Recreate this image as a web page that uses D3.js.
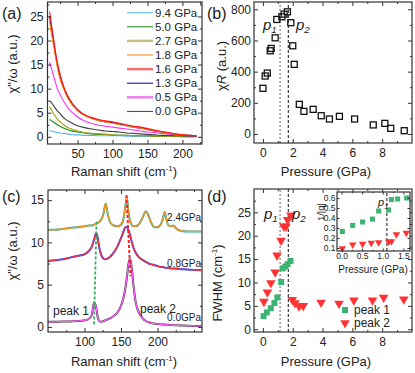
<!DOCTYPE html>
<html>
<head>
<meta charset="utf-8">
<script src="https://cdn.jsdelivr.net/npm/d3@7"></script>
<style>
body { margin: 0; background: #fff; }
text { font-family: "Liberation Sans", Arial, sans-serif; fill: #222; }
</style>
</head>
<body>
<script>
// ---- (a) chi''/omega vs Raman shift, one array per pressure
var shiftA = [10,12,15,18,21,25,30,35,40,45,50,60,70,80,90,100,110,120,130,140,150,160,170,180,190,200,210,220];
var a94 = [1.3,1.2,1.1,1.0,0.9,0.8,0.7,0.6,0.5,0.4,0.4,0.3,0.3,0.2,0.2,0.2,0.2,0.1,0.1,0.1,0.1,0.1,0.1,0.1,0.1,0.1,0.1,0.1];
var a50 = [3.6,3.4,3.1,2.8,2.5,2.2,1.8,1.5,1.3,1.1,1.0,0.8,0.6,0.5,0.5,0.4,0.3,0.3,0.2,0.2,0.2,0.1,0.1,0.1,0.1,0.0,0.0,0.0];
var a27 = [6.3,5.8,5.0,4.3,3.7,3.1,2.5,2.0,1.7,1.4,1.2,0.9,0.7,0.6,0.5,0.4,0.3,0.3,0.2,0.2,0.2,0.1,0.1,0.1,0.1,0.0,0.0,0.0];
var a18 = [24,22,19.5,17,14.5,12,10,8.3,7.1,6.2,5.4,4.4,3.8,3.4,3.1,2.8,2.5,2.3,2.0,1.8,1.5,1.2,1.0,0.8,0.5,0.4,0.3,0.2];
var a16 = [26,24,21,18,15.5,13,10.5,8.8,7.5,6.5,5.7,4.6,4.0,3.6,3.3,3.1,2.8,2.5,2.2,2.0,1.7,1.4,1.1,0.9,0.6,0.4,0.3,0.2];
var a13 = [25,23,20.5,17.5,15,12.5,10.2,8.5,7.3,6.3,5.5,4.5,3.9,3.4,3.1,2.9,2.6,2.3,2.0,1.8,1.5,1.2,1.0,0.8,0.5,0.4,0.3,0.2];
var a05 = [15.5,14.5,13,11.5,10,8.8,7.4,6.3,5.4,4.7,4.1,3.3,2.8,2.4,2.2,2.0,1.8,1.6,1.4,1.2,1.0,0.9,0.7,0.6,0.4,0.3,0.2,0.2];
var a00 = [7.5,7.2,6.6,6.0,5.4,4.8,4.0,3.4,3.0,2.6,2.3,1.9,1.6,1.4,1.2,1.1,1.0,0.8,0.7,0.6,0.5,0.4,0.3,0.3,0.2,0.2,0.1,0.1];
var labelsA = ["9.4 GPa","5.0 GPa","2.7 GPa","1.8 GPa","1.6 GPa","1.3 GPa","0.5 GPa","0.0 GPa"];

// ---- (b) chi_R vs pressure
var pressB = [0.0,0.15,0.29,0.49,0.55,0.82,0.93,1.27,1.42,1.64,1.87,2.0,2.1,2.44,2.75,3.37,3.91,4.46,5.13,6.15,7.4,8.18,8.57,9.48];
var chiR   = [293,372,391,534,549,617,735,752,769,784,714,566,447,190,145,158,117,96,113,96,58,68,36,21];
var p1 = 1.15, p2 = 1.7;

// ---- (c) spectra with fits at three pressures (offset)
var shiftC = [50,60,70,80,90,100,105,110,113,116,118,120,123,126,129,132,135,140,145,150,153,156,158,160,162,164,167,170,175,180,184,188,192,196,200,205,208,210,212,215,219,222,225,230,240,250,260];
var c00 = [0.6,0.6,0.65,0.65,0.7,0.8,0.9,1.4,2.9,2.3,1.2,0.7,0.6,0.7,0.8,0.9,1.0,1.3,1.7,2.5,3.3,4.6,5.8,7.3,8.1,7.5,5.0,3.0,1.6,1.0,0.7,0.55,0.45,0.4,0.35,0.3,0.3,0.28,0.27,0.25,0.23,0.2,0.2,0.18,0.15,0.12,0.1];
var c08 = [7.8,7.9,8.0,8.2,8.4,8.6,8.9,9.5,10.3,11.1,10.6,9.5,8.5,8.1,8.0,8.1,8.3,8.8,9.5,10.5,11.2,11.8,11.8,11.5,11.0,10.3,9.4,8.8,8.2,7.9,7.7,7.5,7.4,7.3,7.2,7.1,7.1,7.0,7.0,7.0,6.9,6.9,6.9,6.85,6.8,6.75,6.7];
var c24 = [11.5,11.5,11.6,11.7,11.8,11.9,12.0,12.0,12.1,12.2,12.3,12.4,12.7,13.4,14.6,13.3,12.4,12.0,11.9,12.1,12.6,14.3,15.4,13.8,12.7,12.2,11.9,11.9,12.2,13.0,13.7,13.1,12.2,11.8,11.8,12.2,13.0,13.6,12.8,12.0,11.9,12.0,11.7,11.4,11.3,11.3,11.3];
var labelsC = ["0.0GPa","0.8GPa","2.4GPa"];
var peak1Trace = [[113,0.3],[116.5,12.6]];
var peak2Trace = [[157.5,15.6],[163,6.0]];

// ---- (d) FWHM vs pressure, inset 1/|q|
var pressD1 = [0.04,0.26,0.53,0.77,0.97,1.22,1.33,1.5,1.65,1.85];
var fwhm1   = [2.8,3.6,4.5,5.6,6.8,10.1,13.0,13.4,13.9,14.6];
var pressD2 = [0.06,0.3,0.53,0.82,0.95,1.22,1.4,1.55,1.66,1.88,1.97,2.15,2.42,2.7,3.9,5.1,6.1,7.35,8.1,9.45];
var fwhm2   = [5.9,7.9,9.9,12.2,15.8,19.0,22.0,22.0,23.4,24.4,6.3,5.6,4.9,5.0,5.7,5.5,6.2,6.2,6.8,6.4];
var insetP1 = [0.02,0.27,0.51,0.75,0.9,1.14,1.21,1.36,1.58];
var insetQ1 = [0.265,0.326,0.36,0.389,0.47,0.48,0.585,0.59,0.6];
var insetP2 = [0.02,0.27,0.51,0.72,0.9,1.14,1.21,1.33,1.57];
var insetQ2 = [0.095,0.134,0.14,0.15,0.156,0.163,0.165,0.235,0.25];

var svg = d3.select("body").append("svg").attr("width", 415).attr("height", 373);

// frame with inward major/minor ticks on all four sides
function box(g, x, y, o) {
  var xr = x.range(), yr = y.range();
  var fs = o.fs || 12;
  g.append("g").attr("transform", "translate(0," + yr[0] + ")")
   .call(d3.axisBottom(x).tickValues(o.xt).tickSize(-o.tl).tickPadding(o.xpad).tickFormat(o.xf || d3.format("d")));
  g.append("g").attr("transform", "translate(0," + yr[0] + ")")
   .call(d3.axisBottom(x).tickValues(o.xm).tickSize(-o.tl / 2).tickFormat(""));
  g.append("g").attr("transform", "translate(0," + yr[1] + ")")
   .call(d3.axisTop(x).tickValues(o.xt).tickSize(-o.tl).tickFormat(""));
  g.append("g").attr("transform", "translate(0," + yr[1] + ")")
   .call(d3.axisTop(x).tickValues(o.xm).tickSize(-o.tl / 2).tickFormat(""));
  g.append("g").attr("transform", "translate(" + xr[0] + ",0)")
   .call(d3.axisLeft(y).tickValues(o.yt).tickSize(-o.tl).tickPadding(o.ypad).tickFormat(o.yf || d3.format("d")));
  g.append("g").attr("transform", "translate(" + xr[0] + ",0)")
   .call(d3.axisLeft(y).tickValues(o.ym).tickSize(-o.tl / 2).tickFormat(""));
  g.append("g").attr("transform", "translate(" + xr[1] + ",0)")
   .call(d3.axisRight(y).tickValues(o.yt).tickSize(-o.tl).tickFormat(""));
  g.append("g").attr("transform", "translate(" + xr[1] + ",0)")
   .call(d3.axisRight(y).tickValues(o.ym).tickSize(-o.tl / 2).tickFormat(""));
  g.selectAll(".domain").remove();
  g.selectAll(".tick line").attr("stroke", "#333");
  g.selectAll(".tick text").attr("font-size", fs).attr("font-family", "Liberation Sans, Arial, sans-serif").attr("fill", "#222");
  g.append("rect").attr("x", xr[0]).attr("y", yr[1])
   .attr("width", xr[1] - xr[0]).attr("height", yr[0] - yr[1])
   .attr("fill", "none").attr("stroke", "#333").attr("stroke-width", 1.2);
}

function cmLabel(g, x, y, pre, rot) {
  var t = g.append("text").attr("font-size", 13).attr("text-anchor", "middle")
    .attr("transform", "translate(" + x + "," + y + ")" + (rot ? " rotate(-90)" : ""));
  t.append("tspan").text(pre + " (cm");
  t.append("tspan").attr("font-size", 8).attr("dy", -5).text("-1");
  t.append("tspan").attr("dy", 5).text(")");
}

function yLabel(g, x, y, txt) {
  g.append("text").attr("font-size", 13).attr("text-anchor", "middle")
   .attr("transform", "translate(" + x + "," + y + ") rotate(-90)").text(txt);
}

function pLabel(g, x, y, n, fs) {
  var t = g.append("text").attr("x", x).attr("y", y).attr("font-size", fs).attr("font-style", "italic");
  t.append("tspan").text("p");
  t.append("tspan").attr("font-size", fs * 0.65).attr("dy", 3).text(n);
}

// ---------- (a)
var gA = svg.append("g");
var xA = d3.scaleLinear().domain([7, 228]).range([47.5, 202]);
var yA = d3.scaleLinear().domain([-1.5, 28]).range([144, 2]);
var drawA = [a94, a50, a27, a00, a05, a13, a18, a16];
var colA  = ["#5ab4f0", "#138a13", "#a0a010", "#404040", "#ff30ff", "#0000b0", "#ff8000", "#ff1010"];
var lineA = d3.line().x(function(d, i) { return xA(shiftA[i]); }).y(function(d) { return yA(d); }).curve(d3.curveMonotoneX);
drawA.forEach(function(s, k) {
  gA.append("path").attr("d", lineA(s)).attr("fill", "none").attr("stroke", colA[k]).attr("stroke-width", 1.1);
});
box(gA, xA, yA, {xt: [50,100,150,200], xm: [25,75,125,175,225], yt: [0,5,10,15,20,25], ym: [2.5,7.5,12.5,17.5,22.5,27.5], tl: 4, xpad: 5, ypad: 4});
var legCol = ["#5ab4f0", "#138a13", "#c8c080", "#ff8000", "#f07070", "#0000b0", "#f080f0", "#404040"];
var legW   = [1, 1, 2.5, 1, 2.5, 1, 2.5, 1];
labelsA.forEach(function(l, k) {
  var yy = 12.7 + k * 14.1;
  gA.append("line").attr("x1", 127).attr("x2", 153).attr("y1", yy).attr("y2", yy)
    .attr("stroke", legCol[k]).attr("stroke-width", legW[k]);
  gA.append("text").attr("x", 155).attr("y", yy + 4).attr("font-size", 11.5).text(l);
});
gA.append("text").attr("x", 2).attr("y", 19).attr("font-size", 16).text("(a)");
yLabel(gA, 17, 64, "\u03c7\"/\u03c9 (a.u.)");
cmLabel(gA, 124, 176, "Raman shift", false);

// ---------- (b)
var gB = svg.append("g");
var xB = d3.scaleLinear().domain([-0.6, 10]).range([254, 412]);
var yB = d3.scaleLinear().domain([-58, 847]).range([143, 2]);
gB.append("line").attr("x1", xB(p1)).attr("x2", xB(p1)).attr("y1", yB.range()[0]).attr("y2", yB.range()[1])
  .attr("stroke", "#888").attr("stroke-width", 1.3).attr("stroke-dasharray", "2,2");
gB.append("line").attr("x1", xB(p2)).attr("x2", xB(p2)).attr("y1", yB.range()[0]).attr("y2", yB.range()[1])
  .attr("stroke", "#111").attr("stroke-width", 1).attr("stroke-dasharray", "3,2");
gB.selectAll("rect.pt").data(pressB).enter().append("rect").attr("class", "pt")
  .attr("x", function(d) { return xB(d) - 3; })
  .attr("y", function(d, i) { return yB(chiR[i]) - 3; })
  .attr("width", 6).attr("height", 6)
  .attr("fill", "none").attr("stroke", "#111").attr("stroke-width", 1.3);
box(gB, xB, yB, {xt: [0,2,4,6,8], xm: [1,3,5,7,9], yt: [0,200,400,600,800], ym: [100,300,500,700], tl: 4, xpad: 5, ypad: 3});
gB.append("text").attr("x", 207).attr("y", 19).attr("font-size", 16).text("(b)");
pLabel(gB, 263, 30, "1", 15);
pLabel(gB, 296, 30, "2", 15);
var tb = gB.append("text").attr("font-size", 13).attr("text-anchor", "middle")
  .attr("transform", "translate(226,66) rotate(-90)");
tb.append("tspan").text("\u03c7");
tb.append("tspan").attr("font-style", "italic").text("R");
tb.append("tspan").text(" (a.u.)");
gB.append("text").attr("x", 326).attr("y", 176).attr("font-size", 13).attr("text-anchor", "middle").text("Pressure (GPa)");

// ---------- (c)
var gC = svg.append("g");
var xC = d3.scaleLinear().domain([50, 261]).range([48, 202]);
var yC = d3.scaleLinear().domain([-0.6, 16.2]).range([332, 190]);
var lineC = d3.line().x(function(d, i) { return xC(shiftC[i]); }).y(function(d) { return yC(d); }).curve(d3.curveMonotoneX);
var dataCol = ["#333333", "#2040ff", "#20a090"];
var fitCol  = ["#ff5cff", "#ff3030", "#ff9a20"];
[c00, c08, c24].forEach(function(s, k) {
  gC.append("path").attr("d", lineC(s)).attr("fill", "none").attr("stroke", dataCol[k]).attr("stroke-width", 2);
  gC.append("path").attr("d", lineC(s)).attr("fill", "none").attr("stroke", fitCol[k]).attr("stroke-width", 1.3);
});
var traceLine = d3.line().x(function(d) { return xC(d[0]); }).y(function(d) { return yC(d[1]); });
gC.append("path").attr("d", traceLine(peak1Trace)).attr("stroke", "#30b060").attr("stroke-width", 1.8)
  .attr("stroke-dasharray", "3,2").attr("fill", "none");
gC.append("path").attr("d", traceLine(peak2Trace)).attr("stroke", "#ff2020").attr("stroke-width", 2)
  .attr("stroke-dasharray", "3,2").attr("fill", "none");
box(gC, xC, yC, {xt: [100,150,200], xm: [75,125,175,225,250], yt: [0,5,10,15], ym: [2.5,7.5,12.5], tl: 4, xpad: 5, ypad: 4});
var labYC = [318, 264, 218];
labelsC.forEach(function(l, k) {
  gC.append("text").attr("x", 201).attr("y", labYC[k] + 3).attr("font-size", 10).attr("text-anchor", "end").attr("fill", "#333").text(l);
});
gC.append("text").attr("x", 53).attr("y", 315).attr("font-size", 12).text("peak 1");
gC.append("text").attr("x", 140).attr("y", 313).attr("font-size", 12).text("peak 2");
gC.append("text").attr("x", 2).attr("y", 202).attr("font-size", 16).text("(c)");
yLabel(gC, 17, 251, "\u03c7\"/\u03c9 (a.u.)");
cmLabel(gC, 124, 366, "Raman shift", false);

// ---------- (d)
var gD = svg.append("g");
var xD = d3.scaleLinear().domain([-0.6, 10]).range([254, 412]);
var yD = d3.scaleLinear().domain([-0.6, 30]).range([332, 189]);
gD.append("line").attr("x1", xD(p1)).attr("x2", xD(p1)).attr("y1", yD.range()[0]).attr("y2", yD.range()[1])
  .attr("stroke", "#888").attr("stroke-width", 1.3).attr("stroke-dasharray", "2,2");
gD.append("line").attr("x1", xD(p2)).attr("x2", xD(p2)).attr("y1", yD.range()[0]).attr("y2", yD.range()[1])
  .attr("stroke", "#111").attr("stroke-width", 1).attr("stroke-dasharray", "3,2");
var green = "#3cb371", red = "#ff3333";
var tri = d3.symbol().type(d3.symbolTriangle);
function down(g, x, y, sz, c) {
  g.append("path").attr("d", tri.size(sz)()).attr("fill", c)
   .attr("transform", "translate(" + x + "," + y + ") rotate(180)");
}
pressD2.forEach(function(p, i) { down(gD, xD(p), yD(fwhm2[i]), 40, red); });
gD.selectAll("rect.g1").data(pressD1).enter().append("rect").attr("class", "g1")
  .attr("x", function(d) { return xD(d) - 3; })
  .attr("y", function(d, i) { return yD(fwhm1[i]) - 3; })
  .attr("width", 6).attr("height", 6).attr("fill", green);
box(gD, xD, yD, {xt: [0,2,4,6,8], xm: [1,3,5,7,9], yt: [0,5,10,15,20,25], ym: [2.5,7.5,12.5,17.5,22.5,27.5], tl: 4, xpad: 5, ypad: 3});
gD.append("rect").attr("x", 342).attr("y", 307).attr("width", 6).attr("height", 6).attr("fill", green);
down(gD, 345, 323, 40, red);
gD.append("text").attr("x", 354).attr("y", 314).attr("font-size", 12).text("peak 1");
gD.append("text").attr("x", 354).attr("y", 327).attr("font-size", 12).text("peak 2");
gD.append("text").attr("x", 207).attr("y", 202).attr("font-size", 16).text("(d)");
pLabel(gD, 264, 219, "1", 15);
pLabel(gD, 292, 219, "2", 15);
cmLabel(gD, 222, 283, "FWHM", true);
gD.append("text").attr("x", 326).attr("y", 366).attr("font-size", 13).attr("text-anchor", "middle").text("Pressure (GPa)");

// inset
var gI = svg.append("g");
var xI = d3.scaleLinear().domain([-0.11, 1.66]).range([337, 410]);
var yI = d3.scaleLinear().domain([0.07, 0.66]).range([251, 192]);
gI.append("rect").attr("x", 337).attr("y", 192).attr("width", 73).attr("height", 59).attr("fill", "#fff");
gI.append("line").attr("x1", xI(1.1)).attr("x2", xI(1.1)).attr("y1", 251).attr("y2", 192)
  .attr("stroke", "#111").attr("stroke-width", 1).attr("stroke-dasharray", "3,2");
gI.selectAll("rect.i1").data(insetP1).enter().append("rect").attr("class", "i1")
  .attr("x", function(d) { return xI(d) - 2.5; })
  .attr("y", function(d, i) { return yI(insetQ1[i]) - 2.5; })
  .attr("width", 5).attr("height", 5).attr("fill", green);
insetP2.forEach(function(p, i) { down(gI, xI(p), yI(insetQ2[i]), 24, red); });
box(gI, xI, yI, {xt: [0,0.5,1,1.5], xm: [0.25,0.75,1.25], yt: [0.1,0.2,0.3,0.4,0.5,0.6], ym: [], tl: 2.5, xpad: 2, ypad: 1.5,
  xf: d3.format(".1f"), yf: d3.format(".1f"), fs: 8.5});
pLabel(gI, 378, 206, "1", 11);
gI.append("text").attr("x", 373).attr("y", 273).attr("font-size", 10).attr("text-anchor", "middle").text("Pressure (GPa)");
gI.append("text").attr("font-size", 9.5).attr("text-anchor", "middle")
  .attr("transform", "translate(324,212) rotate(-90)").text("1/|q|");
</script>
</body>
</html>
